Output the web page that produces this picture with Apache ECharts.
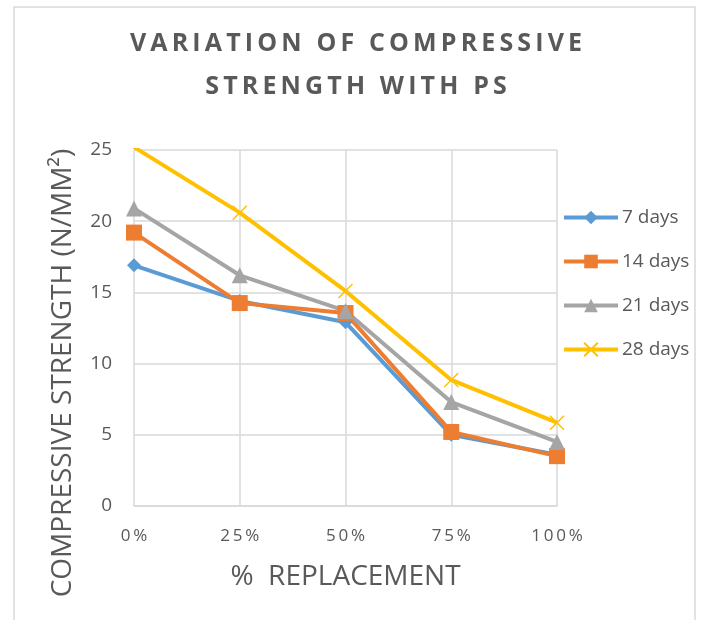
<!DOCTYPE html>
<html>
<head>
<meta charset="utf-8">
<script src="https://cdn.jsdelivr.net/npm/echarts@6/dist/echarts.min.js"></script>
<style>html,body{margin:0;padding:0;background:#fff;}#c{width:704px;height:620px;}</style>
</head>
<body>
<div id="c"></div>
<script>
var categories = ['0%', '25%', '50%', '75%', '100%'];
var days7 = [16.9, 14.4, 12.9, 5.0, 3.6];
var days14 = [19.2, 14.25, 13.55, 5.2, 3.5];
var days21 = [20.9, 16.2, 13.7, 7.3, 4.5];
var days28 = [25.2, 20.6, 15.1, 8.85, 5.85];
var seriesNames = ['7 days', '14 days', '21 days', '28 days'];
var yTicks = [0, 5, 10, 15, 20, 25];

function spaced(s, sep) { return s.split('').join(sep); }

var chart = echarts.init(document.getElementById('c'), null, {renderer: 'canvas'});
var crossPath = 'path://M0,0L10,10M10,0L0,10';
var colors = ['#5B9BD5', '#ED7D31', '#A5A5A5', '#FFC000'];

var option = {
  animation: false,
  backgroundColor: '#fff',
  title: {
    text: spaced('VARIATION OF COMPRESSIVE', '\u2009') + '\n' + spaced('STRENGTH WITH PS', '\u2009'),
    left: 351, top: 17, textAlign: 'center',
    textStyle: {fontFamily: 'Open Sans', fontWeight: 'bold', fontSize: 25, color: '#595959', lineHeight: 43}
  },
  grid: {left: 134, right: 147, top: 150, bottom: 114, containLabel: false},
  legend: {
    orient: 'vertical', left: 557, top: 203, itemGap: 25, itemWidth: 54, itemHeight: 17,
    textStyle: {fontFamily: 'Open Sans', fontSize: 19, color: '#595959', padding: [0, 0, 0, -1]},
    data: seriesNames.map(function (n, i) {
      return {name: n, lineStyle: {width: 4, color: colors[i]}};
    })
  },
  xAxis: {
    type: 'category', data: categories, boundaryGap: false,
    name: '%  REPLACEMENT', nameLocation: 'middle', nameGap: 57,
    nameTextStyle: {fontFamily: 'Open Sans', fontSize: 28, color: '#595959'},
    axisLine: {lineStyle: {color: '#D9D9D9', width: 1.5}},
    axisTick: {show: false},
    axisLabel: {fontFamily: 'Open Sans', fontSize: 17, color: '#595959', margin: 22,
      formatter: function (v) { return spaced(v, '\u2009'); }},
    splitLine: {show: true, lineStyle: {color: '#D9D9D9', width: 1.5}}
  },
  yAxis: {
    type: 'value', min: 0, max: 25, interval: 5,
    name: 'COMPRESSIVE STRENGTH (N/MM\u00B2)', nameLocation: 'middle', nameGap: 57, nameRotate: 90,
    nameTextStyle: {fontFamily: 'Open Sans', fontSize: 28, color: '#595959', padding: [0, 90, 0, 0]},
    axisLine: {show: false}, axisTick: {show: false},
    axisLabel: {fontFamily: 'Open Sans', fontSize: 19, color: '#595959', margin: 22},
    splitLine: {lineStyle: {color: '#D9D9D9', width: 1.5}}
  },
  series: [
    {name: seriesNames[0], type: 'line', data: days7, symbol: 'diamond', symbolSize: 14,
      lineStyle: {width: 4, color: colors[0]}, itemStyle: {color: colors[0]}},
    {name: seriesNames[1], type: 'line', data: days14, symbol: 'rect', symbolSize: 16,
      lineStyle: {width: 4, color: colors[1]}, itemStyle: {color: colors[1]}},
    {name: seriesNames[2], type: 'line', data: days21, symbol: 'triangle', symbolSize: 16,
      lineStyle: {width: 4, color: colors[2]}, itemStyle: {color: colors[2]}},
    {name: seriesNames[3], type: 'line', data: days28, symbol: crossPath, symbolSize: 14,
      lineStyle: {width: 4, color: colors[3]}, itemStyle: {color: colors[3], borderColor: colors[3], borderWidth: 1.5}}
  ],
  graphic: [
    {type: 'rect', shape: {x: 14, y: 7, width: 681, height: 640}, style: {fill: 'none', stroke: '#D9D9D9', lineWidth: 1.5}, silent: true, z: -1}
  ]
};
chart.setOption(option);
</script>
</body>
</html>
